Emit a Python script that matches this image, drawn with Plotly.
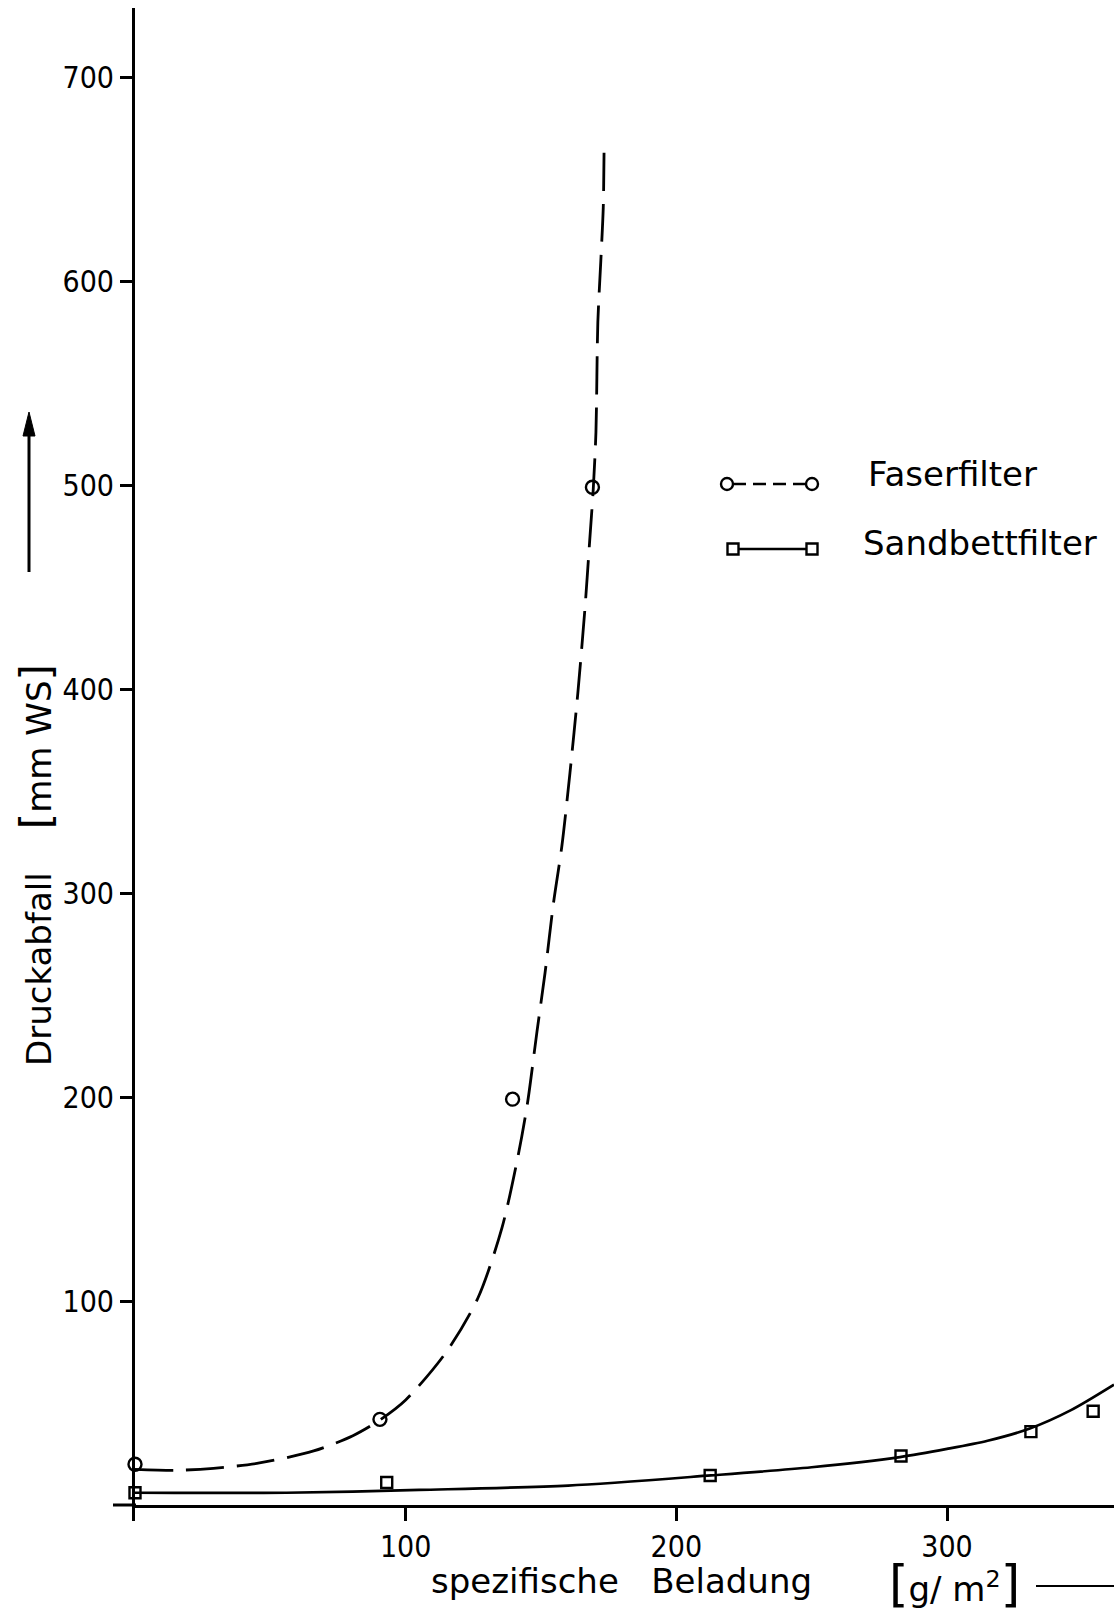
import plotly.graph_objects as go

# ---------------- data ----------------
# Faserfilter: measured points
faser_x = [0, 90.5, 139.5, 169]
faser_y = [20, 42, 199, 499]
# Faserfilter: drawn (fitted) dashed curve
faser_curve_x = [0, 15, 29, 46, 66, 80.5, 90.5, 100, 115, 126.7, 135.6, 141.5, 145,
                 148.5, 151.5, 154.6, 157.7, 160.7, 163.6, 166.2, 168, 169.3, 170.3,
                 171, 172.1, 173, 173.3]
faser_curve_y = [17.5, 17, 18, 20.6, 26.5, 34, 41.7, 51.5, 75, 101.5, 136, 171, 197,
                 232, 261, 295, 323, 359, 398, 439, 473, 498, 526, 580, 610, 636, 664]

# Sandbettfilter: measured points
sand_x = [0, 93, 212.5, 283, 331, 354]
sand_y = [6, 11, 14.5, 24, 36, 46]
# Sandbettfilter: drawn (fitted) solid curve
sand_curve_x = [0, 56, 105, 160, 212.8, 250, 282.6, 300, 315, 330.6, 345.8, 361.7]
sand_curve_y = [6, 6, 7.4, 9.5, 14.5, 18.5, 23.5, 27.5, 31.5, 37.5, 46.5, 59]

x_ticks = [100, 200, 300]
x_tick_labels = ["100", "200", "300"]
y_ticks = [100, 200, 300, 400, 500, 600, 700]
y_tick_labels = ["100", "200", "300", "400", "500", "600", "700"]

legend_names = ["Faserfilter", "Sandbettfilter"]
NB = "\u00a0"
x_title = "spezifische" + NB * 3 + "Beladung"
y_title = ("Druckabfall" + NB * 4 + "<span style='font-size:42px'>[</span>mm" + NB
           + "WS<span style='font-size:42px'>]</span>")

# ---------------- layout helpers ----------------
W, H = 1114, 1615
L, R, T, B = 135, 0, 8, 110
PW, PH = W - L - R, H - T - B


def px(X):
    return (X - L) / PW


def py(Y):
    return (H - B - Y) / PH


TITLE_FONT = "DejaVu Sans, Liberation Sans, sans-serif"
TICK_FONT = "Liberation Sans Narrow, DejaVu Sans Condensed, Arial Narrow, Liberation Sans, sans-serif"

fig = go.Figure()

fig.add_trace(go.Scatter(x=sand_curve_x, y=sand_curve_y, mode="lines",
                         line=dict(color="black", width=2.7, shape="spline", smoothing=0.8),
                         showlegend=False, hoverinfo="skip"))
fig.add_trace(go.Scatter(x=faser_curve_x, y=faser_curve_y, mode="lines",
                         line=dict(color="black", width=2.8, dash="38px,13px",
                                   shape="spline", smoothing=0.8),
                         showlegend=False, hoverinfo="skip"))
fig.add_trace(go.Scatter(x=faser_x, y=faser_y, mode="markers", name=legend_names[0],
                         marker=dict(symbol="circle-open", size=13, color="black",
                                     line=dict(width=2.4)),
                         cliponaxis=False, showlegend=False))
fig.add_trace(go.Scatter(x=sand_x, y=sand_y, mode="markers", name=legend_names[1],
                         marker=dict(symbol="square-open", size=11, color="black",
                                     line=dict(width=2.4)),
                         cliponaxis=False, showlegend=False))

shapes = []
# x-axis line extension to the left of the y axis
shapes.append(dict(type="line", xref="paper", yref="paper", x0=px(113), x1=px(136),
                   y0=py(1505), y1=py(1505), line=dict(color="black", width=3)))
# y-axis line extension below the x axis
shapes.append(dict(type="line", xref="paper", yref="paper", x0=px(133.5), x1=px(133.5),
                   y0=py(1504), y1=py(1521), line=dict(color="black", width=3)))
# line after the unit on the x axis title
shapes.append(dict(type="line", xref="paper", yref="paper", x0=px(1036), x1=px(1114),
                   y0=py(1586), y1=py(1586), line=dict(color="black", width=2.2)))
# arrow next to the y title
shapes.append(dict(type="line", xref="paper", yref="paper", x0=px(29), x1=px(29),
                   y0=py(572), y1=py(432), line=dict(color="black", width=3)))
shapes.append(dict(type="path", xref="paper", yref="paper",
                   path=f"M {px(23)} {py(436)} L {px(29)} {py(412)} L {px(35)} {py(436)} Z",
                   fillcolor="black", line=dict(color="black", width=1)))

# legend glyphs
r = 6
for cx in (727, 812):
    shapes.append(dict(type="circle", xref="paper", yref="paper",
                       x0=px(cx - r), x1=px(cx + r), y0=py(484 + r), y1=py(484 - r),
                       line=dict(color="black", width=2.4)))
shapes.append(dict(type="line", xref="paper", yref="paper", x0=px(733), x1=px(806),
                   y0=py(484), y1=py(484),
                   line=dict(color="black", width=2.4, dash="13px,7px")))
s = 5.5
for cx in (733, 812):
    shapes.append(dict(type="rect", xref="paper", yref="paper",
                       x0=px(cx - s), x1=px(cx + s), y0=py(549 + s), y1=py(549 - s),
                       line=dict(color="black", width=2.4)))
shapes.append(dict(type="line", xref="paper", yref="paper", x0=px(738.5), x1=px(806.5),
                   y0=py(549), y1=py(549), line=dict(color="black", width=2.4)))

annotations = [
    dict(text=legend_names[0], xref="paper", yref="paper", x=px(866), y=py(474),
         xanchor="left", yanchor="middle", showarrow=False,
         font=dict(family=TITLE_FONT, size=34, color="black")),
    dict(text=legend_names[1], xref="paper", yref="paper", x=px(861), y=py(543),
         xanchor="left", yanchor="middle", showarrow=False,
         font=dict(family=TITLE_FONT, size=34, color="black")),
    dict(text=x_title, xref="paper", yref="paper", x=px(621), y=py(1581),
         xanchor="center", yanchor="middle", showarrow=False,
         font=dict(family=TITLE_FONT, size=34, color="black")),
    dict(text="<span style='font-size:50px'>[</span>g/" + NB + "m<sup>2</sup><span style='font-size:50px'>]</span>",
         xref="paper", yref="paper", x=px(954), y=py(1584),
         xanchor="center", yanchor="middle", showarrow=False,
         font=dict(family=TITLE_FONT, size=34, color="black")),
    dict(text=y_title, xref="paper", yref="paper", x=px(36), y=py(865),
         xanchor="center", yanchor="middle", textangle=-90, showarrow=False,
         font=dict(family=TITLE_FONT, size=34, color="black")),
]

fig.update_layout(
    width=W, height=H, autosize=False,
    margin=dict(l=L, r=R, t=T, b=B, pad=0),
    paper_bgcolor="white", plot_bgcolor="white",
    showlegend=False,
    shapes=shapes, annotations=annotations,
    xaxis=dict(range=[0, 361.7], showline=True, linewidth=3, linecolor="black",
               ticks="outside", ticklen=13, tickwidth=2.5, tickcolor="black",
               tickvals=x_ticks, ticktext=x_tick_labels, showgrid=False, zeroline=False,
               tickfont=dict(family=TICK_FONT, size=30, color="black")),
    yaxis=dict(range=[0, 734], showline=True, linewidth=3, linecolor="black",
               ticks="outside", ticklen=12, tickwidth=2.5, tickcolor="black",
               tickvals=y_ticks, ticktext=y_tick_labels, showgrid=False, zeroline=False,
               tickfont=dict(family=TICK_FONT, size=30, color="black")),
)

fig.write_html("out.html")
